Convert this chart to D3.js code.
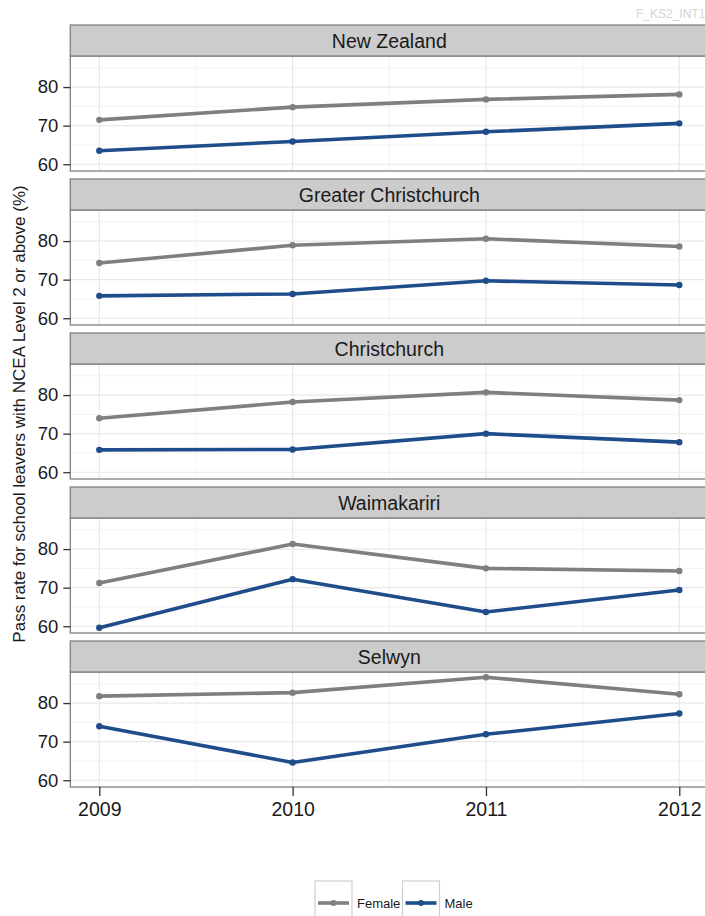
<!DOCTYPE html>
<html>
<head>
<meta charset="utf-8">
<script src="https://cdn.jsdelivr.net/npm/d3@7"></script>
<style>
  html, body { margin: 0; padding: 0; background: #ffffff; }
  svg { display: block; font-family: "Liberation Sans", Arial, Helvetica, sans-serif; }
</style>
</head>
<body>
<svg id="chart" width="705" height="916"></svg>
<script>
// ---- data ----
const years = [2009, 2010, 2011, 2012];
const regions = ["New Zealand", "Greater Christchurch", "Christchurch", "Waimakariri", "Selwyn"];
const seriesNames = ["Female", "Male"];
const femaleValues = [
  [71.5, 74.8, 76.8, 78.1],
  [74.3, 78.9, 80.6, 78.6],
  [74.0, 78.2, 80.7, 78.7],
  [71.2, 81.3, 75.0, 74.3],
  [81.8, 82.7, 86.7, 82.3]
];
const maleValues = [
  [63.5, 65.9, 68.4, 70.6],
  [65.8, 66.3, 69.7, 68.6],
  [65.8, 65.9, 70.0, 67.8],
  [59.6, 72.2, 63.7, 69.4],
  [74.0, 64.6, 71.9, 77.3]
];
const yTicks = [60, 70, 80];
const yMinorTicks = [65, 75, 85];
const xMinorTicks = [2009.5, 2010.5, 2011.5];
const yAxisTitle = "Pass rate for school leavers with NCEA Level 2 or above (%)";
const watermark = "F_KS2_INT1";

// ---- styling / layout ----
const colors = { Female: "#7f7f7f", Male: "#1f4d8b" };
const firstTop = 25, stripH = 31, plotH = 115, panelGap = 8;
const period = stripH + plotH + panelGap;

const svg = d3.select("#chart");

const x = d3.scaleLinear().domain([2009, 2012]).range([99.3, 679.3]);
const xPad = 0.15;
const panelL = x(2009 - xPad), panelR = x(2012 + xPad);

const allVals = femaleValues.flat().concat(maleValues.flat());
const vMin = d3.min(allVals), vMax = d3.max(allVals);
const vPad = (vMax - vMin) * 0.05;
const yDomain = [vMin - vPad, vMax + vPad];

// watermark
svg.append("text")
  .attr("x", 636).attr("y", 18)
  .attr("font-size", 12).attr("fill", "#d4d4d4")
  .text(watermark);

regions.forEach((region, i) => {
  const top = firstTop + i * period;
  const plotTop = top + stripH;
  const plotBottom = plotTop + plotH;
  const y = d3.scaleLinear().domain(yDomain).range([plotBottom, plotTop]);
  const g = svg.append("g");

  // panel background
  g.append("rect").attr("x", panelL).attr("y", plotTop)
    .attr("width", panelR - panelL).attr("height", plotH).attr("fill", "#ffffff");

  // minor grid
  g.selectAll(".ymin").data(yMinorTicks.filter(v => v > yDomain[0] && v < yDomain[1])).join("line")
    .attr("x1", panelL).attr("x2", panelR).attr("y1", d => y(d)).attr("y2", d => y(d))
    .attr("stroke", "#f4f4f4").attr("stroke-width", 1);
  g.selectAll(".xmin").data(xMinorTicks).join("line")
    .attr("x1", d => x(d)).attr("x2", d => x(d)).attr("y1", plotTop).attr("y2", plotBottom)
    .attr("stroke", "#f4f4f4").attr("stroke-width", 1);
  // major grid
  g.selectAll(".ymaj").data(yTicks).join("line")
    .attr("x1", panelL).attr("x2", panelR).attr("y1", d => y(d)).attr("y2", d => y(d))
    .attr("stroke", "#e8e8e8").attr("stroke-width", 1.2);
  g.selectAll(".xmaj").data(years).join("line")
    .attr("x1", d => x(d)).attr("x2", d => x(d)).attr("y1", plotTop).attr("y2", plotBottom)
    .attr("stroke", "#e8e8e8").attr("stroke-width", 1.2);

  // series
  const line = d3.line().x((d, k) => x(years[k])).y(d => y(d));
  [["Female", femaleValues[i]], ["Male", maleValues[i]]].forEach(([name, vals]) => {
    g.append("path").datum(vals)
      .attr("d", line).attr("fill", "none")
      .attr("stroke", colors[name]).attr("stroke-width", 3.6)
      .attr("stroke-linejoin", "round");
    g.selectAll(".pt-" + name).data(vals).join("circle")
      .attr("cx", (d, k) => x(years[k])).attr("cy", d => y(d)).attr("r", 3.2)
      .attr("fill", colors[name]);
  });

  // panel border
  g.append("rect").attr("x", panelL).attr("y", plotTop)
    .attr("width", panelR - panelL).attr("height", plotH)
    .attr("fill", "none").attr("stroke", "#808080").attr("stroke-width", 1.3);

  // strip
  g.append("rect").attr("x", panelL).attr("y", top)
    .attr("width", panelR - panelL).attr("height", stripH)
    .attr("fill", "#cccccc").attr("stroke", "#808080").attr("stroke-width", 1.3);
  g.append("text")
    .attr("x", (panelL + panelR) / 2).attr("y", top + stripH / 2 + 7)
    .attr("text-anchor", "middle").attr("font-size", 19.5).attr("fill", "#1a1a1a")
    .text(region);

  // y axis
  const ya = g.append("g").attr("transform", `translate(${panelL},0)`)
    .call(d3.axisLeft(y).tickValues(yTicks).tickSize(7).tickPadding(5).tickFormat(d3.format("d")));
  ya.select(".domain").remove();
  ya.selectAll(".tick line").attr("stroke", "#333").attr("stroke-width", 1.3);
  ya.selectAll(".tick text").attr("font-size", 18.5).attr("fill", "#1a1a1a")
    .attr("font-family", "'Liberation Sans', Arial, sans-serif");

  if (i === regions.length - 1) {
    const xa = g.append("g").attr("transform", `translate(0,${plotBottom})`)
      .call(d3.axisBottom(x).tickValues(years).tickSize(9).tickPadding(6).tickFormat(d3.format("d")));
    xa.select(".domain").remove();
    xa.selectAll(".tick line").attr("stroke", "#333").attr("stroke-width", 1.3);
    xa.selectAll(".tick text").attr("font-size", 19.5).attr("fill", "#1a1a1a")
      .attr("font-family", "'Liberation Sans', Arial, sans-serif");
  }
});

// y axis title
const totalTop = firstTop, totalBottom = firstTop + regions.length * period - panelGap;
svg.append("text")
  .attr("transform", `translate(25,${(totalTop + totalBottom) / 2 + 8}) rotate(-90)`)
  .attr("text-anchor", "middle").attr("font-size", 17).attr("fill", "#1a1a1a")
  .text(yAxisTitle);

// legend
const legendX = 315, legendY = 881, keyW = 37, keyH = 44;
const legendOffsets = [0, 87.5];
seriesNames.forEach((name, k) => {
  const lx = legendX + legendOffsets[k];
  const lg = svg.append("g");
  lg.append("rect").attr("x", lx).attr("y", legendY).attr("width", keyW).attr("height", keyH)
    .attr("fill", "#ffffff").attr("stroke", "#d0d0d0").attr("stroke-width", 1.2);
  lg.append("line").attr("x1", lx + 3).attr("x2", lx + keyW - 3)
    .attr("y1", legendY + 22).attr("y2", legendY + 22)
    .attr("stroke", colors[name]).attr("stroke-width", 3.6);
  lg.append("circle").attr("cx", lx + keyW / 2).attr("cy", legendY + 22).attr("r", 3)
    .attr("fill", colors[name]);
  lg.append("text").attr("x", lx + keyW + 5).attr("y", legendY + 26.5)
    .attr("font-size", 13).attr("fill", "#1a1a1a").text(name);
});
</script>
</body>
</html>
